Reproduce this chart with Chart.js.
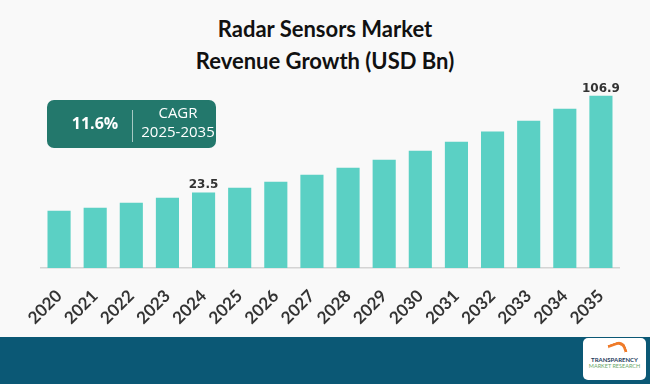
<!DOCTYPE html>
<html>
<head>
<meta charset="utf-8">
<script src="https://cdn.jsdelivr.net/npm/chart.js@4"></script>
<style>
  html, body { margin: 0; padding: 0; }
  body { width: 650px; height: 384px; background: #f9f9f9; position: relative; overflow: hidden; font-family: "Lato", sans-serif; }
  #title { position: absolute; left: 0; top: 13px; width: 650px; text-align: center; font-family: "Lato", sans-serif; font-weight: 700; font-size: 22px; line-height: 32px; color: #111; }
  #chartWrap { position: absolute; left: 0; top: 0; width: 650px; height: 336px; }
  #cagr { position: absolute; left: 47px; top: 100px; width: 169px; height: 48px; background: #23786c; border-radius: 7px; color: #fff; font-family: "Open Sans", sans-serif; }
  #cagr .pct { position: absolute; left: 0; width: 96px; top: 12px; text-align: center; font-weight: 700; font-size: 16px; }
  #cagr .sep { position: absolute; left: 85px; top: 10px; width: 1px; height: 32px; background: rgba(255,255,255,0.6); }
  #cagr .lbl { position: absolute; left: 87px; width: 88px; top: 3px; text-align: center; font-size: 15px; line-height: 19px; }
  #footer { position: absolute; left: 0; top: 337px; width: 650px; height: 47px; background: #0b5875; }
  #logo { position: absolute; left: 583px; top: 338px; width: 63px; height: 42px; background: #fff; border-radius: 5px; font-family: "Lato", sans-serif; text-align: center; }
  #logo .a { position: absolute; left: 0; width: 63px; top: 18px; font-size: 6px; font-weight: 700; color: #1d3b5c; }
  #logo .b { position: absolute; left: 0; width: 63px; top: 25px; font-size: 5.5px; color: #6aa86a; }
  #logo .arr { position: absolute; left: 26px; top: 4px; width: 14px; height: 10px; border-top: 3px solid #ef7b2a; border-right: 3px solid #ef7b2a; border-radius: 0 8px 0 0; transform: rotate(-20deg); }
</style>
</head>
<body>
<div id="title">Radar Sensors Market<br>Revenue Growth (USD Bn)</div>
<div id="chartWrap"><canvas id="chart"></canvas></div>
<div id="cagr">
  <div class="pct">11.6%</div>
  <div class="sep"></div>
  <div class="lbl">CAGR<br>2025-2035</div>
</div>
<div id="footer"></div>
<div id="logo"><div class="arr"></div><div class="a">TRANSPARENCY</div><div class="b">MARKET RESEARCH</div></div>
<script>
// Chart data
const years = ["2020", "2021", "2022", "2023", "2024", "2025", "2026", "2027",
               "2028", "2029", "2030", "2031", "2032", "2033", "2034", "2035"];
const revenue = [7.7, 10.3, 14.6, 18.9, 23.5, 27.6, 32.7, 38.8,
                 44.8, 51.7, 59.5, 67.2, 75.9, 85.3, 95.7, 106.9];
const labelledYears = ["2024", "2035"];

const axisMin = -41.7;
const axisMax = 120.4;

// draws the value above the few bars that carry a label
const valueLabels = {
  id: "valueLabels",
  afterDatasetsDraw(chart) {
    const ctx = chart.ctx;
    const meta = chart.getDatasetMeta(0);
    ctx.save();
    ctx.font = "bold 12px 'DejaVu Sans', sans-serif";
    ctx.fillStyle = "#333333";
    ctx.textAlign = "center";
    ctx.textBaseline = "alphabetic";
    years.forEach((y, i) => {
      if (!labelledYears.includes(y)) return;
      const bar = meta.data[i];
      ctx.fillText(revenue[i].toFixed(1), bar.x, bar.y - 4);
    });
    ctx.restore();
  }
};

function buildChart() {
  const ctx = document.getElementById("chart");
  new Chart(ctx, {
    type: "bar",
    data: {
      labels: years,
      datasets: [
        {
          data: revenue,
          base: axisMin,
          backgroundColor: "#5bd0c4",
          borderWidth: 0,
          barPercentage: 0.64,
          categoryPercentage: 1.0
        }
      ]
    },
    options: {
      responsive: true,
      maintainAspectRatio: false,
      animation: false,
      layout: { padding: { left: 41, right: 31, top: 80, bottom: 0 } },
      plugins: { legend: { display: false }, tooltip: { enabled: false } },
      scales: {
        y: { display: false, min: axisMin, max: axisMax },
        x: {
          grid: { display: false },
          border: { display: true, color: "#d4d4d4", width: 1.5 },
          afterFit(scale) { scale.height = 68; },
          ticks: {
            minRotation: 45,
            maxRotation: 45,
            padding: 10,
            color: "#333333",
            font: { family: "Lato", weight: "bold", size: 17 }
          }
        }
      }
    },
    plugins: [valueLabels]
  });
}

document.addEventListener("DOMContentLoaded", buildChart);
</script>
</body>
</html>
